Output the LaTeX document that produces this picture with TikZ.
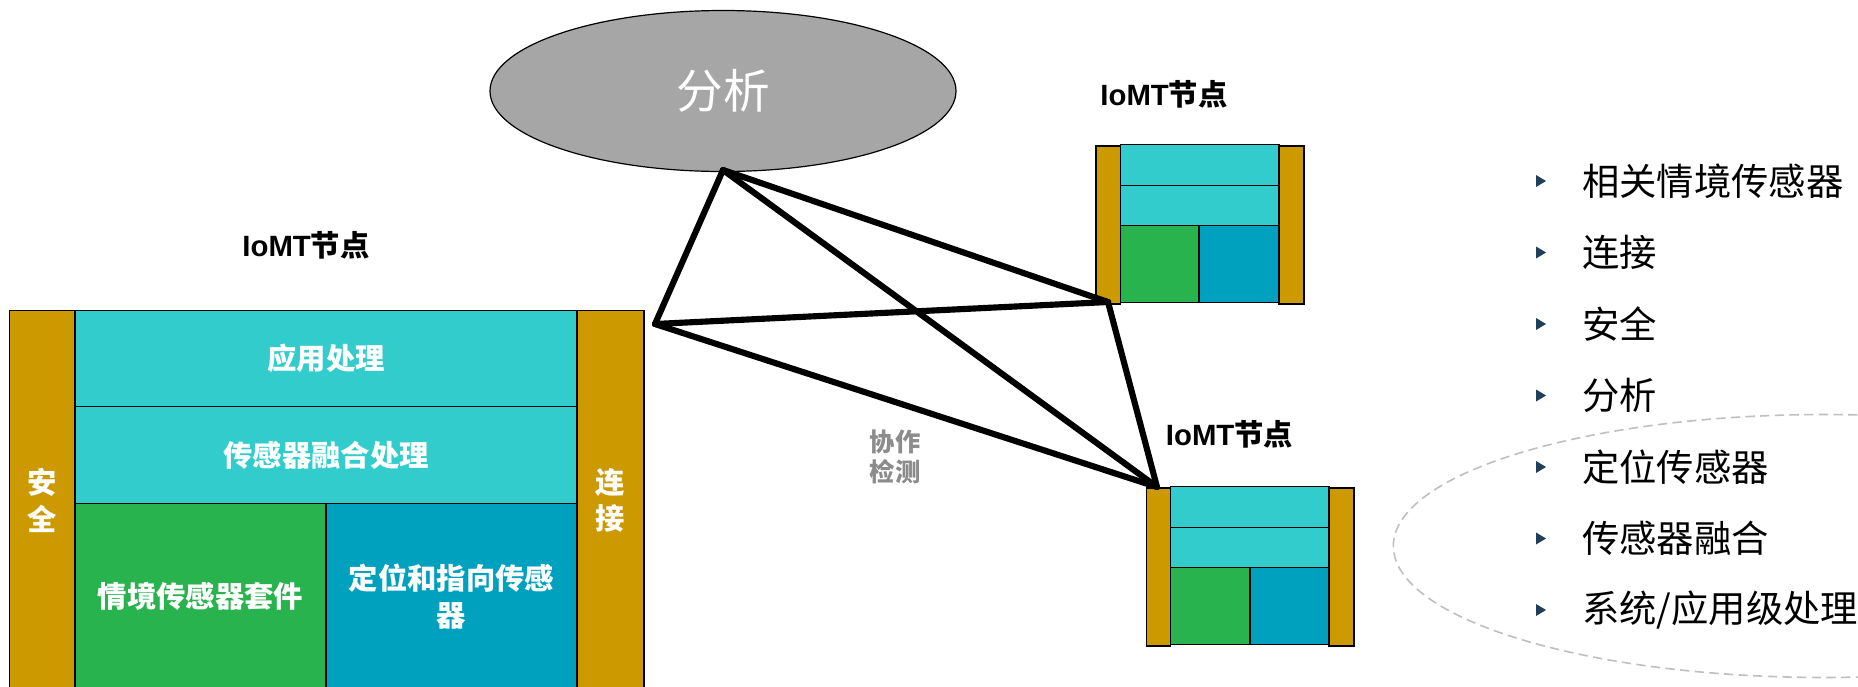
\documentclass[tikz,border=0pt]{standalone}
\usepackage{fontspec}
\setmainfont{Liberation Sans}
\newfontfamily\cjk{Noto Sans CJK SC}
\usetikzlibrary{calc,shapes.geometric}
\definecolor{goldfill}{HTML}{CC9900}
\definecolor{cyanfill}{HTML}{33CCCC}
\definecolor{greenfill}{HTML}{29B34F}
\definecolor{bluefill}{HTML}{00A0BF}
\definecolor{anafill}{HTML}{A6A6A6}
\definecolor{collabgray}{HTML}{8C8C8C}
\definecolor{bulletc}{HTML}{1F3F5A}
\definecolor{dashgray}{HTML}{BFBFBF}
\newcommand\cellbox[7]{\node[#6, minimum width={(#4-#2)*0.75pt}, minimum height={(#5-#3)*0.75pt}] (#1) at ({(#2+#4)/2},{(#3+#5)/2}) {#7};}
\tikzset{
  cellbase/.style={draw=black, line width=1.1pt, inner sep=0pt, text=white, align=center,
    font=\cjk\bfseries\fontsize{22}{27.5}\selectfont},
  barbox/.style={cellbase, fill=goldfill},
  cyanbox/.style={cellbase, fill=cyanfill},
  greenbox/.style={cellbase, fill=greenfill},
  bluebox/.style={cellbase, fill=bluefill},
  titlelabel/.style={inner sep=0pt, text=black, font=\bfseries\fontsize{22}{26}\selectfont},
  link/.style={draw=black, line width=4.6pt, line cap=round},
  listitem/.style={anchor=west, inner sep=0pt, text=black, font=\cjk\fontsize{28}{33}\selectfont},
}
\begin{document}
\begin{tikzpicture}[x=0.75pt,y=-0.75pt]
\useasboundingbox (0,0) rectangle (1858,686);
\fill[white] (0,0) rectangle (1858,686);

% dashed ellipse (behind)
\draw[dashgray, line width=1.2pt, dash pattern=on 7pt off 4pt] (1824,546) ellipse [x radius=323pt, y radius=98.6pt];

% big IoMT node
\node[titlelabel] (t1) at (306,245) {IoMT{\cjk 节点}};
\cellbox{secA}{9.5}{310.5}{75}{690}{barbox}{安\\全}
\cellbox{appA}{75}{310.5}{577}{406.7}{cyanbox}{应用处理}
\cellbox{fusA}{75}{406.7}{577}{503.3}{cyanbox}{传感器融合处理}
\cellbox{ctxA}{75}{503.3}{326}{690}{greenbox}{情境传感器套件}
\cellbox{posA}{326}{503.3}{577}{690}{bluebox}{定位和指向传感\\器}
\cellbox{conA}{577}{310.5}{644}{690}{barbox}{连\\接}

% top-right IoMT node
\node[titlelabel] (t2) at (1164,94) {IoMT{\cjk 节点}};
\cellbox{secB}{1096}{146}{1120.7}{304}{barbox}{}
\cellbox{appB}{1120.7}{144.6}{1279}{185.5}{cyanbox}{}
\cellbox{fusB}{1120.7}{185.5}{1279}{225.6}{cyanbox}{}
\cellbox{ctxB}{1120.7}{225.6}{1199}{302.7}{greenbox}{}
\cellbox{posB}{1199}{225.6}{1279}{302.7}{bluebox}{}
\cellbox{conB}{1279}{146}{1304}{304}{barbox}{}

% bottom-right IoMT node
\node[titlelabel] (t3) at (1229.5,434) {IoMT{\cjk 节点}};
\cellbox{secC}{1146.7}{488}{1170.7}{646}{barbox}{}
\cellbox{appC}{1170.7}{486.5}{1329}{527.3}{cyanbox}{}
\cellbox{fusC}{1170.7}{527.3}{1329}{567.4}{cyanbox}{}
\cellbox{ctxC}{1170.7}{567.4}{1250}{644.6}{greenbox}{}
\cellbox{posC}{1250}{567.4}{1329}{644.6}{bluebox}{}
\cellbox{conC}{1329}{488}{1354}{646}{barbox}{}

% analysis ellipse
\node[ellipse, draw=black, line width=0.9pt, fill=anafill, inner sep=0pt,
      minimum width={466*0.75pt}, minimum height={161*0.75pt},
      text=white, font=\cjk\fontsize{35}{40}\selectfont] (ana) at (723,91) {分析};

% mesh of links
\coordinate (pA) at (723,170);
\coordinate (pB) at (655,324);
\coordinate (pC) at (1108,302);
\coordinate (pD) at (1157,487);
\draw[link] (pA) -- (pB);
\draw[link] (pA) -- (pC);
\draw[link] (pA) -- (pD);
\draw[link] (pB) -- (pC);
\draw[link] (pB) -- (pD);
\draw[link] (pC) -- (pD);

% collaborative detection label
\node[inner sep=0pt, align=center, text=collabgray, font=\cjk\bfseries\fontsize{19}{22.5}\selectfont] (collab) at (895,457) {协作\\检测};

% right list
\foreach \i/\y/\txt in {1/181/{相关情境传感器}, 2/252.5/{连接}, 3/324/{安全}, 4/395.5/{分析}, 5/467/{定位传感器}, 6/538.5/{传感器融合}, 7/610/{系统/应用级处理}}{
  \node[listitem] (item\i) at (1582,\y) {\txt};
  \fill[bulletc] ($(item\i.west)+(-46,-6)$) -- ++(10,6) -- ++(-10,6) -- cycle;
}
\end{tikzpicture}
\end{document}
